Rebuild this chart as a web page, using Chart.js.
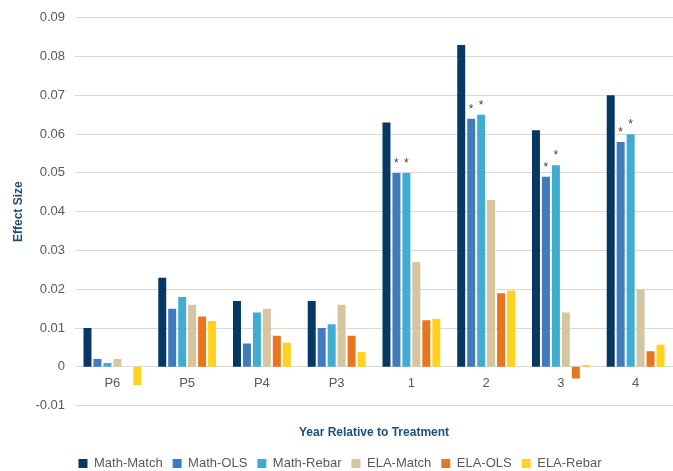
<!DOCTYPE html>
<html>
<head>
<meta charset="utf-8">
<script src="https://cdn.jsdelivr.net/npm/chart.js@4/dist/chart.umd.min.js"></script>
<style>
  html, body { margin: 0; padding: 0; background: #fff; }
  #wrap { width: 673px; height: 471px; }
</style>
</head>
<body>
<div id="wrap"><canvas id="jsChart"></canvas></div>
<script>
// data
const categories = ['P6', 'P5', 'P4', 'P3', '1', '2', '3', '4'];
const mathMatch = [0.010, 0.023, 0.017, 0.017, 0.063, 0.083, 0.061, 0.070];
const mathOls = [0.002, 0.015, 0.006, 0.010, 0.050, 0.064, 0.049, 0.058];
const mathRebar = [0.001, 0.018, 0.014, 0.011, 0.050, 0.065, 0.052, 0.060];
const elaMatch = [0.002, 0.016, 0.015, 0.016, 0.027, 0.043, 0.014, 0.020];
const elaOls = [0, 0.013, 0.008, 0.008, 0.012, 0.019, -0.003, 0.004];
const elaRebar = [-0.0047, 0.0118, 0.0062, 0.0038, 0.0123, 0.0197, 0.0005, 0.0057];
// which bars get a star (Math-OLS and Math-Rebar, years 1-4)
const starOls = [false, false, false, false, true, true, true, true];
const starRebar = [false, false, false, false, true, true, true, true];

const textGrey = '#595959';
const titleBlue = '#1f4e79';
const fontFam = '"Liberation Sans", Arial, sans-serif';

// draws the * above the marked bars
const starPlugin = {
  id: 'stars',
  afterDatasetsDraw(chart) {
    const ctx = chart.ctx;
    ctx.save();
    ctx.fillStyle = '#404040';
    ctx.font = '12px ' + fontFam;
    ctx.textAlign = 'center';
    ctx.textBaseline = 'bottom';
    [[1, starOls], [2, starRebar]].forEach(([idx, flags]) => {
      const meta = chart.getDatasetMeta(idx);
      meta.data.forEach((bar, i) => {
        if (flags[i]) ctx.fillText('*', bar.x, bar.y - 3);
      });
    });
    ctx.restore();
  },
};

const ds = (label, data, color) => ({
  label: label,
  data: data,
  backgroundColor: color,
  borderWidth: 0,
  categoryPercentage: 0.8,
  barPercentage: 0.8,
});

new Chart(document.getElementById('jsChart'), {
  type: 'bar',
  data: {
    labels: categories,
    datasets: [
      ds('Math-Match', mathMatch, '#073763'),
      ds('Math-OLS', mathOls, '#3f7bbd'),
      ds('Math-Rebar', mathRebar, '#40acd2'),
      ds('ELA-Match', elaMatch, '#d5c5a1'),
      ds('ELA-OLS', elaOls, '#e8761c'),
      ds('ELA-Rebar', elaRebar, '#ffd21f'),
    ],
  },
  plugins: [starPlugin],
  options: {
    responsive: true,
    maintainAspectRatio: false,
    animation: false,
    // legend sits close to the bottom edge in the original
    layout: { padding: { top: 0, right: 0, left: 7, bottom: -9 } },
    plugins: {
      legend: {
        position: 'bottom',
        labels: {
          boxWidth: 9,
          boxHeight: 9,
          padding: 10,
          color: textGrey,
          font: { size: 13, family: fontFam },
        },
      },
      tooltip: { enabled: false },
    },
    scales: {
      // category labels sit just under the zero line, like in Excel
      x: {
        position: { y: 0 },
        grid: { display: false, drawTicks: false },
        border: { display: false },
        ticks: {
          color: textGrey,
          font: { size: 13, family: fontFam },
          padding: 9,
        },
      },
      // bottom axis only carries the title
      x2: {
        type: 'category',
        position: 'bottom',
        grid: { display: false, drawTicks: false },
        border: { display: false },
        ticks: { display: false },
        title: {
          display: true,
          text: 'Year Relative to Treatment',
          color: titleBlue,
          font: { size: 12, weight: 'bold', family: fontFam },
          padding: { top: 20, bottom: 7 },
        },
      },
      y: {
        min: -0.01,
        max: 0.09,
        ticks: {
          stepSize: 0.01,
          color: textGrey,
          font: { size: 13, family: fontFam },
          padding: 10,
          callback: (v) => String(Math.round(v * 100) / 100),
        },
        grid: { color: '#d9d9d9', drawTicks: false, lineWidth: 1 },
        border: { display: false },
        title: {
          display: true,
          text: 'Effect Size',
          color: titleBlue,
          font: { size: 12, weight: 'bold', family: fontFam },
          padding: { top: 4, bottom: 0 },
        },
      },
    },
  },
});
</script>
</body>
</html>
